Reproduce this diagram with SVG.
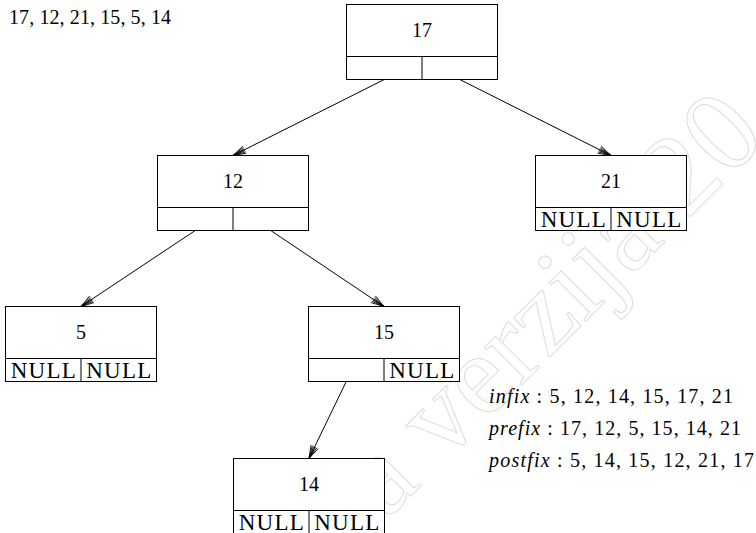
<svg xmlns="http://www.w3.org/2000/svg" xmlns:xlink="http://www.w3.org/1999/xlink" width="756" height="533" viewBox="0 0 756 533">
<style>
  .box { fill: #fff; stroke: #000; stroke-width: 1; }
  .ln { stroke: #000; stroke-width: 1; fill: none; }
  .num { font-family: "Liberation Serif", "DejaVu Serif", serif; font-size: 20px; fill: #000; text-anchor: middle; }
  .null { font-family: "Liberation Serif", "DejaVu Serif", serif; font-size: 23px; fill: #000; text-anchor: middle; }
  .txt { font-family: "Liberation Serif", "DejaVu Serif", serif; font-size: 20px; fill: #000; }
  .it { font-style: italic; }
  .edge { stroke: #000; stroke-width: 1; fill: none; marker-end: url(#arr); }
  .wm { font-family: "Liberation Serif", "DejaVu Serif", serif; font-size: 116px; fill: none; stroke: #dcdcdc; stroke-width: 1; }
</style>
<defs>
  <g id="nodebox">
    <rect class="box" x="0" y="0" width="151" height="75"/>
    <line class="ln" x1="0" y1="52" x2="151" y2="52"/>
    <line class="ln" x1="75.5" y1="52" x2="75.5" y2="75"/>
  </g>
  <marker id="arr" markerUnits="userSpaceOnUse" markerWidth="16" markerHeight="12" viewBox="-14 -6 16 12" refX="0" refY="0" orient="auto">
    <path d="M0,0 L-13,-4 M0,0 L-13,4 M0,0 L-13,-2.5 M0,0 L-13,2.5 M0,0 L-13,-1 M0,0 L-13,1" stroke="#000" stroke-width="0.8" fill="none"/>
  </marker>
</defs>

<g id="watermark">
  <text class="wm" transform="translate(386,521) rotate(-45)">a verzija 20</text>
</g>

<g id="connectors">
  <line class="edge" x1="384.25" y1="79.5" x2="233" y2="155.5"/>
  <line class="edge" x1="459.75" y1="79.5" x2="611" y2="155.5"/>
  <line class="edge" x1="195.25" y1="230.5" x2="81" y2="306.5"/>
  <line class="edge" x1="270.75" y1="230.5" x2="384" y2="306.5"/>
  <line class="edge" x1="346.25" y1="381.5" x2="309" y2="458.5"/>
</g>

<g id="node17" transform="translate(346.5,4.5)">
  <use xlink:href="#nodebox" href="#nodebox"/>
  <text class="num" x="75.5" y="32.5">17</text>
</g>
<g id="node12" transform="translate(157.5,155.5)">
  <use xlink:href="#nodebox" href="#nodebox"/>
  <text class="num" x="75.5" y="32.5">12</text>
</g>
<g id="node21" transform="translate(535.5,155.5)">
  <use xlink:href="#nodebox" href="#nodebox"/>
  <text class="num" x="75.5" y="32.5">21</text>
  <text class="null" x="37.75" y="71.5" textLength="65" lengthAdjust="spacing">NULL</text>
  <text class="null" x="113.25" y="71.5" textLength="65" lengthAdjust="spacing">NULL</text>
</g>
<g id="node5" transform="translate(5.5,306.5)">
  <use xlink:href="#nodebox" href="#nodebox"/>
  <text class="num" x="75.5" y="32.5">5</text>
  <text class="null" x="37.75" y="71.5" textLength="65" lengthAdjust="spacing">NULL</text>
  <text class="null" x="113.25" y="71.5" textLength="65" lengthAdjust="spacing">NULL</text>
</g>
<g id="node15" transform="translate(308.5,306.5)">
  <use xlink:href="#nodebox" href="#nodebox"/>
  <text class="num" x="75.5" y="32.5">15</text>
  <text class="null" x="113.25" y="71.5" textLength="65" lengthAdjust="spacing">NULL</text>
</g>
<g id="node14" transform="translate(233.5,458.5)">
  <use xlink:href="#nodebox" href="#nodebox"/>
  <text class="num" x="75.5" y="32.5">14</text>
  <text class="null" x="37.75" y="71" textLength="65" lengthAdjust="spacing">NULL</text>
  <text class="null" x="113.25" y="71" textLength="65" lengthAdjust="spacing">NULL</text>
</g>

<g id="labels">
  <text class="txt" x="9" y="24" textLength="162" lengthAdjust="spacing">17, 12, 21, 15, 5, 14</text>
  <text class="txt" x="489" y="402.5" textLength="244" lengthAdjust="spacing"><tspan class="it">infix</tspan> : 5, 12, 14, 15, 17, 21</text>
  <text class="txt" x="489" y="435" textLength="252" lengthAdjust="spacing"><tspan class="it">prefix</tspan> : 17, 12, 5, 15, 14, 21</text>
  <text class="txt" x="489" y="467" textLength="265" lengthAdjust="spacing"><tspan class="it">postfix</tspan> : 5, 14, 15, 12, 21, 17</text>
</g>
</svg>
